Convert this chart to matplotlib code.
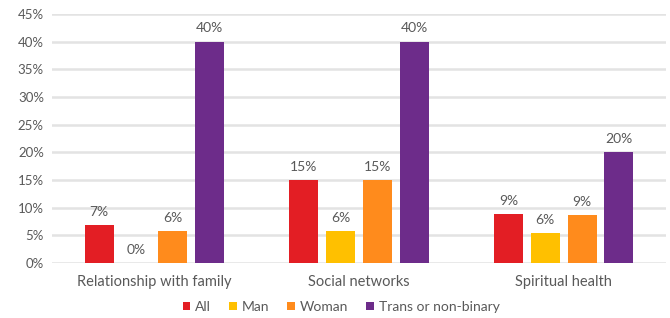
import numpy as np
import matplotlib.pyplot as plt
from matplotlib.ticker import MultipleLocator, PercentFormatter

plt.rcParams["font.family"] = ["Lato", "DejaVu Sans"]

# data (shares, 0-1)
categories = ["Relationship with family", "Social networks", "Spiritual health"]
groups = ["All", "Man", "Woman", "Trans or non-binary"]
all_vals = [0.069, 0.15, 0.089]
man_vals = [0.0, 0.058, 0.054]
woman_vals = [0.058, 0.15, 0.087]
trans_vals = [0.40, 0.40, 0.20]
labels = [["7%", "15%", "9%"], ["0%", "6%", "6%"], ["6%", "15%", "9%"], ["40%", "40%", "20%"]]

series = [all_vals, man_vals, woman_vals, trans_vals]
colours = ["#E31E24", "#FFC000", "#FF8B1C", "#6D2C8A"]
text_col = "#595959"

fig = plt.figure(figsize=(6.7, 3.18), dpi=100)
ax = fig.add_axes([0.078, 0.173, 0.916, 0.783])

x = np.arange(len(categories))
step = 0.18
bar_w = 0.142
for i, vals in enumerate(series):
    pos = x + (i - 1.5) * step
    bars = ax.bar(pos, vals, bar_w, color=colours[i], label=groups[i], zorder=3)
    for b, lab in zip(bars, labels[i]):
        ax.text(b.get_x() + b.get_width() / 2, b.get_height() + 0.013, lab,
                ha="center", va="bottom", fontsize=10, color=text_col)

ax.set_xlim(-0.5, 2.5)
ax.set_ylim(0, 0.45)
ax.yaxis.set_major_locator(MultipleLocator(0.05))
ax.yaxis.set_major_formatter(PercentFormatter(1.0, decimals=0))
ax.grid(axis="y", color="#E3E3E3", linewidth=1.8, zorder=0)
ax.set_axisbelow(True)
for s in ax.spines.values():
    s.set_visible(False)
ax.tick_params(axis="both", length=0, colors=text_col)
ax.tick_params(axis="y", labelsize=9.5, pad=6)
ax.tick_params(axis="x", labelsize=10.5, pad=9)
ax.set_xticks(x, categories)

fig.legend(*ax.get_legend_handles_labels(), loc="center", bbox_to_anchor=(0.509, 0.035),
           ncol=4, frameon=False, fontsize=10, labelcolor=text_col,
           handlelength=0.55, handleheight=0.55, handletextpad=0.35, columnspacing=1.3)

fig.savefig("out.png", dpi=100)
